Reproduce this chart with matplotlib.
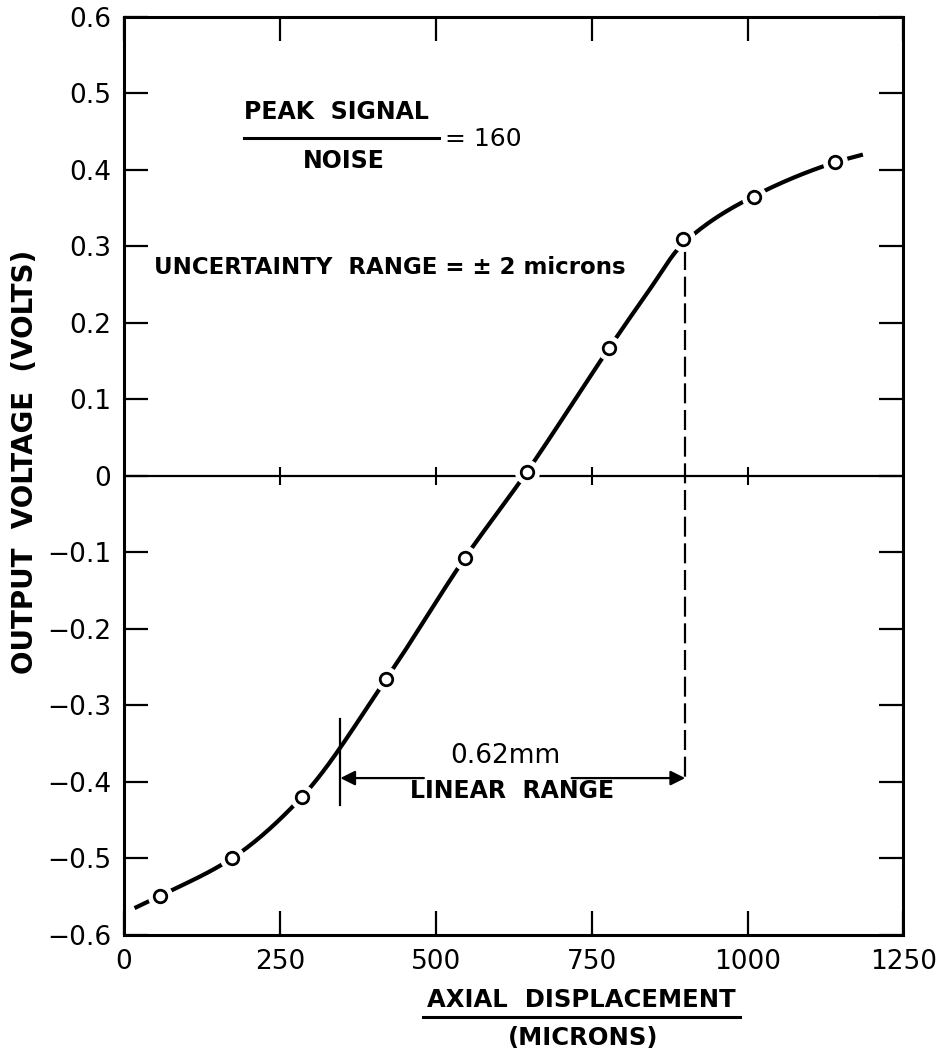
import numpy as np
import matplotlib
matplotlib.use("Agg")
import matplotlib.pyplot as plt
from matplotlib.lines import Line2D

# ---- data ----
x_points = [58, 173, 285, 421, 547, 646, 778, 896, 1011, 1141]           # microns
y_points = [-0.549, -0.500, -0.420, -0.265, -0.107, 0.005, 0.167, 0.310, 0.365, 0.410]  # volts

curve_x = [17, 58, 173, 285, 421, 547, 646, 778, 840, 896, 1011, 1141, 1185]
curve_y = [-0.565, -0.549, -0.500, -0.420, -0.265, -0.107, 0.005, 0.167, 0.240, 0.303, 0.366, 0.410, 0.420]

x_ticks = [0, 250, 500, 750, 1000, 1250]
x_tick_labels = ["0", "250", "500", "750", "1000", "1250"]
y_ticks = [-0.6, -0.5, -0.4, -0.3, -0.2, -0.1, 0.0, 0.1, 0.2, 0.3, 0.4, 0.5, 0.6]
y_tick_labels = ["\u22120.6", "\u22120.5", "\u22120.4", "\u22120.3", "\u22120.2", "\u22120.1", "0",
                 "0.1", "0.2", "0.3", "0.4", "0.5", "0.6"]
inner_x_ticks = [250, 500, 750, 1000]

linear_start = 347
linear_end = 900
arrow_level = -0.395


def monotone_cubic(xs, ys, n=500):
    xs = np.asarray(xs, float)
    ys = np.asarray(ys, float)
    h = np.diff(xs)
    d = np.diff(ys) / h
    m = np.zeros_like(ys)
    m[0] = d[0]
    m[-1] = d[-1]
    for i in range(1, len(xs) - 1):
        if d[i - 1] * d[i] <= 0:
            m[i] = 0
        else:
            w1 = 2 * h[i] + h[i - 1]
            w2 = h[i] + 2 * h[i - 1]
            m[i] = (w1 + w2) / (w1 / d[i - 1] + w2 / d[i])
    xx = np.linspace(xs[0], xs[-1], n)
    idx = np.clip(np.searchsorted(xs, xx) - 1, 0, len(xs) - 2)
    hh = h[idx]
    t = (xx - xs[idx]) / hh
    h00 = 2 * t ** 3 - 3 * t ** 2 + 1
    h10 = t ** 3 - 2 * t ** 2 + t
    h01 = -2 * t ** 3 + 3 * t ** 2
    h11 = t ** 3 - t ** 2
    yy = h00 * ys[idx] + h10 * hh * m[idx] + h01 * ys[idx + 1] + h11 * hh * m[idx + 1]
    return xx, yy


plt.rcParams['font.family'] = ['DejaVu Sans']

fig = plt.figure(figsize=(9.46, 10.54), dpi=100)
ax = fig.add_axes([0.131, 0.113, 0.824, 0.871])
ax.set_xlim(0, 1250)
ax.set_ylim(-0.6, 0.6)

for s in ax.spines.values():
    s.set_linewidth(2.2)

ax.set_xticks(x_ticks)
ax.set_xticklabels(x_tick_labels)
ax.set_yticks(y_ticks)
ax.set_yticklabels(y_tick_labels)
ax.tick_params(axis='both', direction='in', length=17, width=1.6, labelsize=19,
               top=True, right=True)
ax.tick_params(axis='x', pad=10)
ax.tick_params(axis='y', pad=9)

# zero line with crossing ticks
ax.axhline(0, color='black', lw=1.6, zorder=2)
ax.plot(inner_x_ticks, [0] * len(inner_x_ticks), ls='none', marker='|',
        markersize=13, mew=1.5, color='black', zorder=2)

# curve
cx, cy = monotone_cubic(curve_x, curve_y)
ax.plot(cx, cy, color='black', lw=3, solid_capstyle='butt', zorder=3)

# white halo + hollow circles
ax.plot(x_points, y_points, ls='none', marker='o', markersize=17,
        markerfacecolor='white', markeredgecolor='white', zorder=4)
ax.plot(x_points, y_points, ls='none', marker='o', markersize=9,
        markerfacecolor='white', markeredgecolor='black', mew=2, zorder=5)

# dashed vertical at end of linear range
ax.plot([linear_end, linear_end], [0.295, arrow_level], color='black', lw=1.6,
        dashes=(9, 3), zorder=3)
# left marker of linear range
ax.plot([linear_start, linear_start], [-0.318, -0.43], color='black', lw=1.6, zorder=3)

arrow_kw = dict(arrowstyle='-|>', lw=1.6, color='black', mutation_scale=22,
                shrinkA=0, shrinkB=0)
ax.annotate('', xy=(linear_start, arrow_level), xytext=(481, arrow_level),
            arrowprops=arrow_kw)
ax.annotate('', xy=(linear_end, arrow_level), xytext=(718, arrow_level),
            arrowprops=arrow_kw)
ax.text(611, -0.366, '0.62mm', ha='center', va='center', fontsize=19)
ax.text(622, -0.412, 'LINEAR  RANGE', ha='center', va='center', fontsize=17,
        fontweight='bold')

# signal/noise annotation
ax.text(340, 0.476, 'PEAK  SIGNAL', ha='center', va='center', fontsize=17, fontweight='bold')
ax.plot([193, 505], [0.442, 0.442], color='black', lw=2.2)
ax.text(352, 0.412, 'NOISE', ha='center', va='center', fontsize=17, fontweight='bold')
ax.text(515, 0.44, '= 160', ha='left', va='center', fontsize=18)
ax.text(49, 0.272, 'UNCERTAINTY  RANGE = \u00b1 2 microns', ha='left', va='center',
        fontsize=16.5, fontweight='bold')

# axis labels
fig.text(25 / 946, 1 - 462 / 1054, 'OUTPUT  VOLTAGE  (VOLTS)', rotation=90,
         ha='center', va='center', fontsize=20, fontweight='bold')
fig.text(581 / 946, 1 - 1000 / 1054, 'AXIAL  DISPLACEMENT', ha='center', va='center',
         fontsize=17.5, fontweight='bold')
fig.add_artist(Line2D([423 / 946, 740 / 946], [1 - 1017 / 1054, 1 - 1017 / 1054],
                      color='black', lw=2.2, transform=fig.transFigure))
fig.text(583 / 946, 1 - 1038 / 1054, '(MICRONS)', ha='center', va='center', fontsize=17.5,
         fontweight='bold')

fig.savefig('out.png', dpi=100)
